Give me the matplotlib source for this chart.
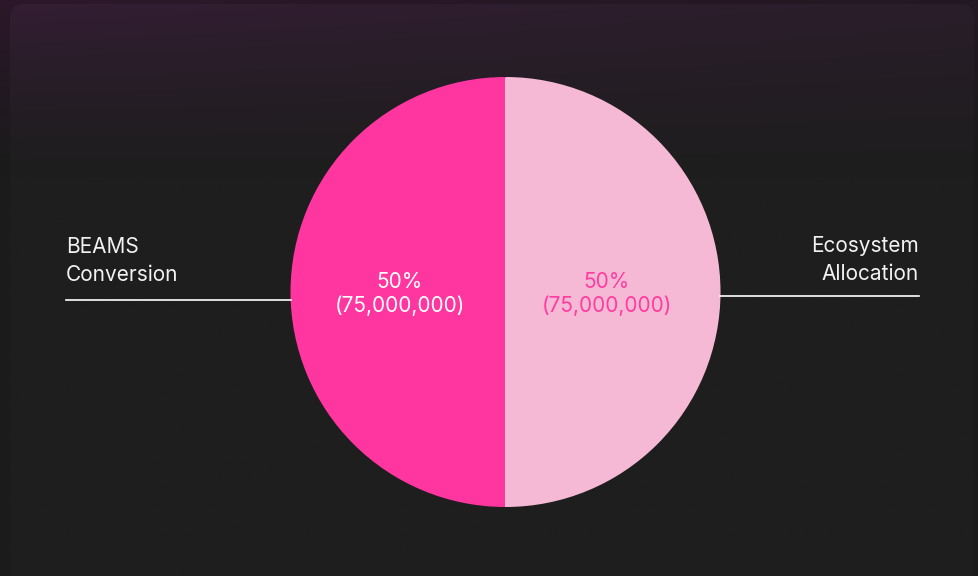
import matplotlib
matplotlib.use("Agg")
import matplotlib.pyplot as plt
import numpy as np
from matplotlib.patches import FancyBboxPatch

categories = ["BEAMS\nConversion", "Ecosystem\nAllocation"]
values = [75000000, 75000000]
colors = ["#FF36A0", "#F5B9D5"]
pct_colors = ["#FFFFFF", "#FF3DA0"]

W, H = 979, 576
fig = plt.figure(figsize=(W / 100, H / 100), dpi=100)
fig.patch.set_facecolor("#1c1c1c")
ax = fig.add_axes([0, 0, 1, 1])
ax.set_xlim(0, W)
ax.set_ylim(0, H)
ax.set_aspect("equal")
ax.axis("off")

# background gradient (purple at top fading to dark)
yy = np.linspace(0, 1, 300)[:, None]
xx = np.linspace(0, 1, 300)[None, :]
top = np.array([0x2c, 0x17, 0x2a]) / 255
bot = np.array([0x1b, 0x1b, 0x1b]) / 255
t = np.clip(1 - yy / 0.3, 0, 1) ** 1.3 * np.clip(1 - 0.5 * xx, 0, 1)
img = bot + (top - bot) * t[..., None]
ax.imshow(img, extent=[0, W, 0, H], origin="upper", zorder=0, aspect="auto")

# card
card_top = np.array([0x33, 0x1d, 0x33]) / 255
card_bot = np.array([0x1e, 0x1e, 0x1e]) / 255
t2 = np.clip(1 - yy / 0.3, 0, 1) ** 1.3 * np.clip(1 - 0.45 * xx, 0, 1)
img2 = card_bot + (card_top - card_bot) * t2[..., None]
card = FancyBboxPatch((10, -20), 964, H - 4 + 20, boxstyle="round,pad=0,rounding_size=14",
                      facecolor="none", edgecolor="none", zorder=1)
ax.add_patch(card)
im2 = ax.imshow(img2, extent=[10, 974, 0, H - 4], origin="upper", zorder=1, aspect="auto")
im2.set_clip_path(card)

cx, cy, r = 505.5, H - 292, 215
wedges, _ = ax.pie(values, colors=colors, startangle=90, counterclock=True,
                   center=(cx, cy), radius=r, frame=True,
                   wedgeprops=dict(edgecolor="none", linewidth=0))
for w in wedges:
    w.set_zorder(3)
ax.plot([cx, cx], [cy - r + 1, cy + r - 1], color="#f3cfe0", lw=0.6, zorder=3.5)
ax.set_xlim(0, W)
ax.set_ylim(0, H)
ax.axis("off")

total = sum(values)
font = "Inter"
fs = 15
for i, (v, c) in enumerate(zip(values, pct_colors)):
    x = 400 if i == 0 else 607
    ax.text(x, H - 282, f"{v / total * 100:.0f}%", ha="center", va="center",
            color=c, fontsize=fs, family=font, zorder=5)
    ax.text(x, H - 306, f"({v:,})", ha="center", va="center",
            color=c, fontsize=fs, family=font, zorder=5)

# outside labels with leader lines
ax.plot([66, 291], [H - 300, H - 300], color="white", lw=1.2, zorder=4)
ax.text(66, H - 261, categories[0], ha="left", va="center", color="#f2f2f2",
        fontsize=fs, family=font, linespacing=1.5, zorder=5)
ax.plot([720, 919], [H - 296, H - 296], color="white", lw=1.2, zorder=4)
ax.text(919, H - 260, categories[1], ha="right", va="center", color="#f2f2f2",
        fontsize=fs, family=font, linespacing=1.5, multialignment="right", zorder=5)

fig.savefig("out.png", dpi=100, facecolor=fig.get_facecolor())
